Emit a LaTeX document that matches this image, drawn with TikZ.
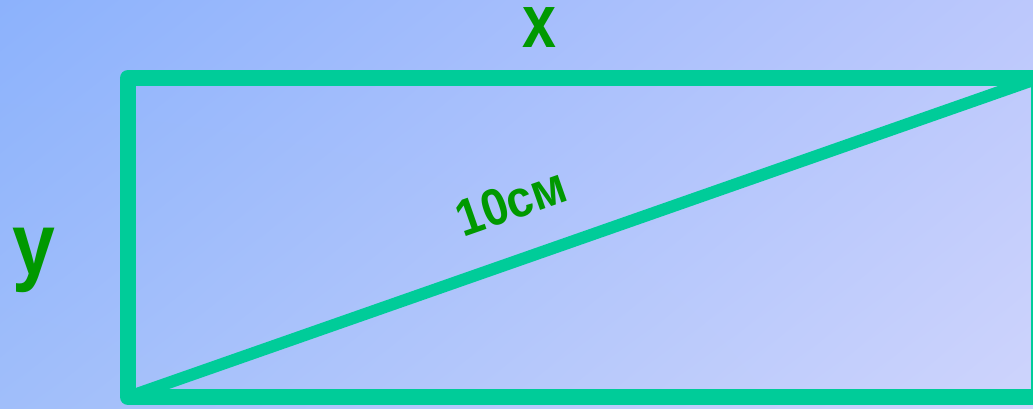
\documentclass[tikz,border=0pt]{standalone}
\usepackage{fontspec}
\setmainfont{Liberation Sans}
\usetikzlibrary{shadings}
\definecolor{bgA}{RGB}{140,178,252}
\definecolor{bgB}{RGB}{206,212,252}
\definecolor{bgC}{RGB}{188,200,252}
\definecolor{bgD}{RGB}{160,190,250}
\definecolor{edge}{RGB}{0,204,153}
\definecolor{lbl}{RGB}{0,153,0}
\tikzset{
  side/.style={draw=edge, line width=16pt, line join=round, line cap=round},
  diag/.style={draw=edge, line width=12pt},
  lab/.style={text=lbl, font=\bfseries, inner sep=0pt}
}
\begin{document}
\begin{tikzpicture}[x=1pt,y=-1pt]
\useasboundingbox (0,0) rectangle (1033,408);
\clip (0,0) rectangle (1033,408);
\shade[upper left=bgA, lower right=bgB, upper right=bgC, lower left=bgD] (0,0) rectangle (1033,408);
\coordinate (BL) at (128,397);
\coordinate (TL) at (128,78);
\coordinate (TR) at (1039,78);
\coordinate (BR) at (1039,397);
\draw[side] (BL) -- (TL) -- (TR) -- (BR) -- cycle;
\draw[diag] (BL) -- (TR);
\node[lab, rotate=19.3, yscale=1.1, font=\bfseries\fontsize{47}{52}\selectfont] (d) at (511,202) {10см};
\node[lab, anchor=base, yscale=1.24, font=\bfseries\fontsize{61}{70}\selectfont] (x) at (539,47) {x};
\node[lab, anchor=base, yscale=1.14, font=\bfseries\fontsize{77}{86}\selectfont] (y) at (34,274) {y};
\end{tikzpicture}
\end{document}
